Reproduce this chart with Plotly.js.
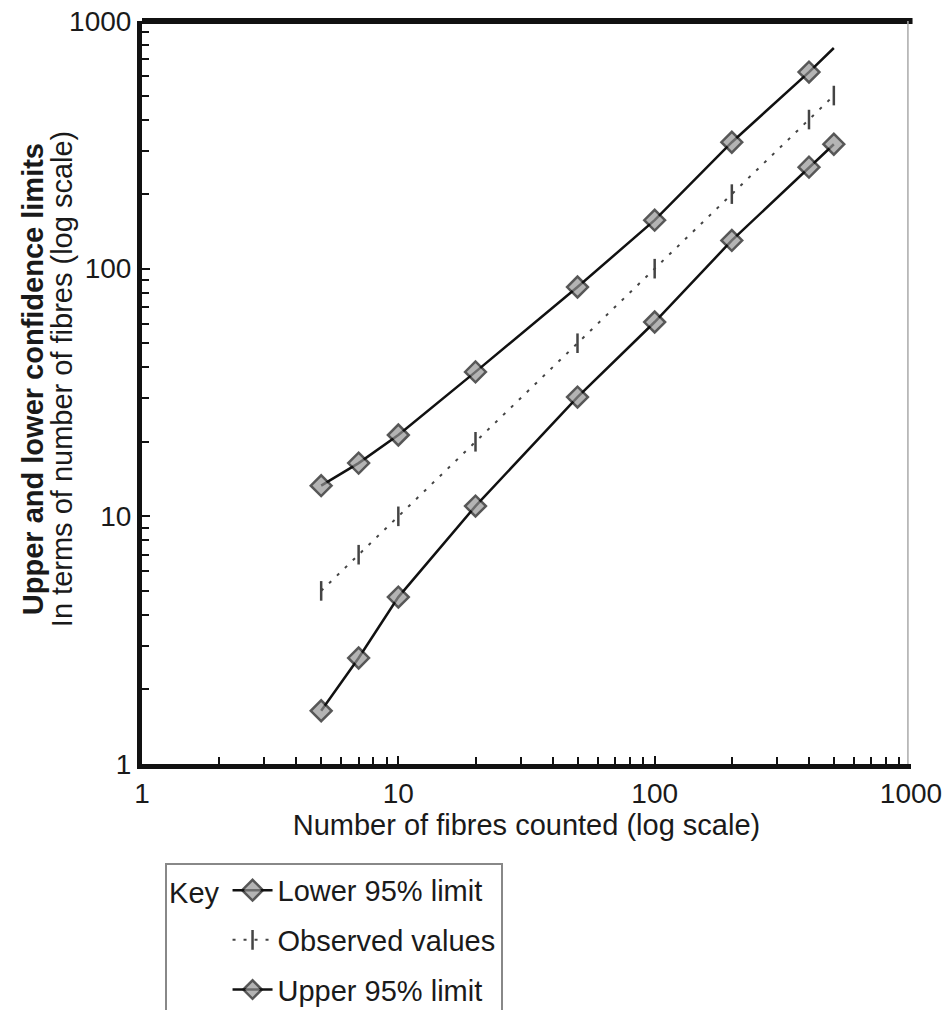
<!DOCTYPE html>
<html>
<head>
<meta charset="utf-8">
<script src="https://cdn.plot.ly/plotly-3.0.1.min.js"></script>
<style>
  html, body { margin: 0; padding: 0; background: #ffffff; overflow: hidden; }
  #chart { width: 942px; height: 1030px; }
</style>
</head>
<body>
<div id="chart"></div>
<script>
// ---- data ----
var fibresCounted = [5, 7, 10, 20, 50, 100, 200, 400, 500];
var lowerLimit    = [1.64, 2.68, 4.72, 11.0, 30.3, 60.9, 130, 257, 318];
var observed      = [5, 7, 10, 20, 50, 100, 200, 400, 500];
var upperLimit    = [13.3, 16.4, 21.3, 38.3, 84.3, 157, 324, 622, 778];

var majorTicks = [1, 10, 100, 1000];
var majorLabels = ['1', '10', '100', '1000'];
var minorTicks = [2, 3, 4, 5, 6, 7, 8, 9, 20, 30, 40, 50, 60, 70, 80, 90, 200, 300, 400, 500, 600, 700, 800, 900];

var seriesNames = ['Lower 95% limit', 'Observed values', 'Upper 95% limit'];
var xTitle = 'Number of fibres counted (log scale)';
var yTitleBold = 'Upper and lower confidence limits';
var yTitleSub = 'In terms of number of fibres (log scale)';
var legendKey = 'Key';

// ---- styling ----
var FONT = '"Liberation Sans", Arial, Helvetica, sans-serif';
var TXT = '#1a1a1a';
var diamondMarker = function (n, hideLast) {
  var sizes = [];
  for (var i = 0; i < n; i++) sizes.push(hideLast && i === n - 1 ? 0 : 16);
  return { symbol: 'diamond', size: sizes, color: '#959595', line: { color: '#111', width: 2.5 } };
};

var traces = [
  {
    x: fibresCounted, y: lowerLimit, name: seriesNames[0], legendgroup: 'a',
    type: 'scatter', mode: 'lines+markers',
    line: { color: '#111', width: 2.5 },
    marker: diamondMarker(fibresCounted.length, false)
  },
  {
    x: fibresCounted, y: observed, name: seriesNames[1], legendgroup: 'b',
    type: 'scatter', mode: 'lines+markers',
    line: { color: '#444', width: 2, dash: '3px,8px' },
    marker: { symbol: 'line-ns-open', size: 14, line: { color: '#111', width: 2.5 } }
  },
  {
    x: fibresCounted, y: upperLimit, name: seriesNames[2], legendgroup: 'c',
    type: 'scatter', mode: 'lines+markers',
    line: { color: '#111', width: 2.5 },
    marker: diamondMarker(fibresCounted.length, true)
  }
];

var axisCommon = {
  type: 'log',
  range: [0, 3],
  tickmode: 'array',
  tickvals: majorTicks,
  ticktext: majorLabels,
  ticks: 'inside',
  ticklen: 8,
  tickwidth: 2,
  tickcolor: '#111',
  showline: true,
  linecolor: '#111',
  linewidth: 5,
  showgrid: false,
  zeroline: false,
  ticklabeloverflow: 'allow',
  tickfont: { family: FONT, size: 28, color: TXT },
  minor: { tickmode: 'array', tickvals: minorTicks, ticks: 'inside', ticklen: 7, tickwidth: 2, tickcolor: '#111', showgrid: false }
};

var xaxis = Object.assign({}, axisCommon, {
  ticklabelstandoff: 0,
  title: { text: xTitle, font: { family: FONT, size: 29, color: TXT }, standoff: 6 }
});
var yaxis = Object.assign({}, axisCommon, {});

var PLOT_TOP = 21, PLOT_BOTTOM = 764, H = 1030;

var layout = {
  width: 942,
  height: H,
  margin: { l: 142, r: 31, t: PLOT_TOP, b: H - PLOT_BOTTOM },
  paper_bgcolor: '#ffffff',
  plot_bgcolor: '#ffffff',
  font: { family: FONT, size: 28, color: TXT },
  xaxis: xaxis,
  yaxis: yaxis,
  showlegend: true,
  legend: {
    x: 0.03, y: -0.133, xanchor: 'left', yanchor: 'top',
    bordercolor: '#888', borderwidth: 2, bgcolor: '#ffffff',
    font: { family: FONT, size: 29, color: TXT },
    title: { text: legendKey, side: 'left', font: { family: FONT, size: 29, color: TXT } },
    tracegroupgap: 9,
    itemwidth: 40
  },
  shapes: [
    { type: 'line', xref: 'paper', yref: 'paper', x0: 0, x1: 1.002, y0: 1, y1: 1, line: { color: '#111', width: 6 } },
    { type: 'line', xref: 'paper', yref: 'paper', x0: 0.996, x1: 0.996, y0: 0, y1: 1, line: { color: '#aaa', width: 1.5 } }
  ],
  annotations: [
    { xref: 'paper', yref: 'paper', x: -0.1417, y: 0.518, xanchor: 'center', yanchor: 'middle',
      textangle: -90, showarrow: false, text: '<b>' + yTitleBold + '</b>',
      font: { family: FONT, size: 29, color: TXT } },
    { xref: 'paper', yref: 'paper', x: -0.104, y: 0.518, xanchor: 'center', yanchor: 'middle',
      textangle: -90, showarrow: false, text: yTitleSub,
      font: { family: FONT, size: 29, color: TXT } }
  ]
};

Plotly.newPlot('chart', traces, layout, { displayModeBar: false, staticPlot: true });
</script>
</body>
</html>
